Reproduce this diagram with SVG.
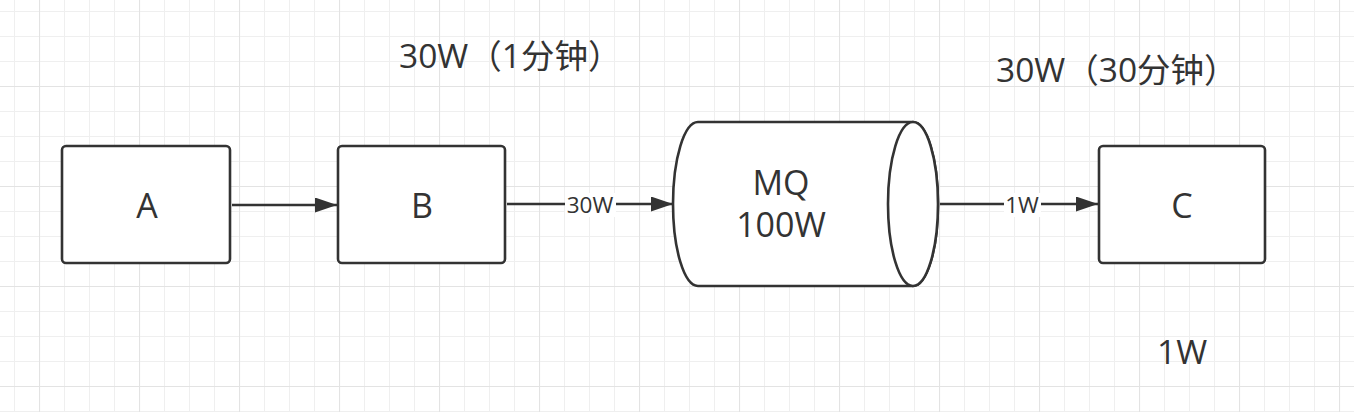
<svg xmlns="http://www.w3.org/2000/svg" width="1354" height="412" viewBox="0 0 1354 412">
  <style>
    .node { fill: #ffffff; stroke: #333333; stroke-width: 2.6; }
    .label { font-family: "Open Sans", "Noto Sans CJK SC", sans-serif; fill: #333333; }
    .big { font-size: 34px; }
    .note { font-size: 33.5px; }
    .small { font-size: 22.5px; }
    .edge { stroke: #333333; stroke-width: 2.6; fill: none; }
  </style>
  <defs>
    <pattern id="minor" patternUnits="userSpaceOnUse" x="14" y="11" width="25" height="25">
      <path d="M0 0.5 H25 M0.5 0 V25" stroke="#efefef" stroke-width="1" fill="none"/>
    </pattern>
    <pattern id="major" patternUnits="userSpaceOnUse" x="39" y="86" width="100" height="100">
      <path d="M0 0.5 H100 M0.5 0 V100" stroke="#e3e3e3" stroke-width="1.2" fill="none"/>
    </pattern>
    <marker id="arrow" markerUnits="userSpaceOnUse" markerWidth="24" markerHeight="16" refX="22" refY="7.5" orient="auto">
      <path d="M0,0 L22,7.5 L0,15 Z" fill="#333333"/>
    </marker>
  </defs>

  <rect width="1354" height="412" fill="#ffffff"/>
  <rect width="1354" height="412" fill="url(#minor)"/>
  <rect width="1354" height="412" fill="url(#major)"/>

  <g id="connectors">
    <line class="edge" x1="232" y1="205" x2="337" y2="205" marker-end="url(#arrow)"/>
    <line class="edge" x1="507" y1="204" x2="673" y2="204" marker-end="url(#arrow)"/>
    <rect x="565" y="193" width="51" height="24" fill="#ffffff"/>
    <text class="label small" x="590" y="213" text-anchor="middle">30W</text>
    <line class="edge" x1="940" y1="204" x2="1098" y2="204" marker-end="url(#arrow)"/>
    <rect x="1004" y="193" width="37" height="24" fill="#ffffff"/>
    <text class="label small" x="1022" y="213" text-anchor="middle">1W</text>
  </g>

  <g id="A">
    <rect class="node" x="62" y="146" width="168" height="117" rx="4"/>
    <text class="label big" x="147" y="218" text-anchor="middle">A</text>
  </g>

  <g id="B">
    <rect class="node" x="338" y="146" width="167" height="117" rx="4"/>
    <text class="label big" x="422" y="218" text-anchor="middle">B</text>
  </g>

  <g id="MQ">
    <path class="node" d="M698,122 L913,122 A25,82 0 0 1 913,286 L698,286 A25,82 0 0 1 698,122 Z"/>
    <ellipse class="node" cx="913" cy="204" rx="25" ry="82"/>
    <text class="label big" x="781" y="195" text-anchor="middle">MQ</text>
    <text class="label big" x="781" y="237" text-anchor="middle">100W</text>
  </g>

  <g id="C">
    <rect class="node" x="1099" y="146" width="166" height="117" rx="4"/>
    <text class="label big" x="1182" y="218" text-anchor="middle">C</text>
  </g>

  <g id="notes">
    <text class="label note" x="399" y="68">30W（1分钟）</text>
    <text class="label note" x="996" y="82">30W（30分钟）</text>
    <text class="label note" x="1157" y="364">1W</text>
  </g>
</svg>
